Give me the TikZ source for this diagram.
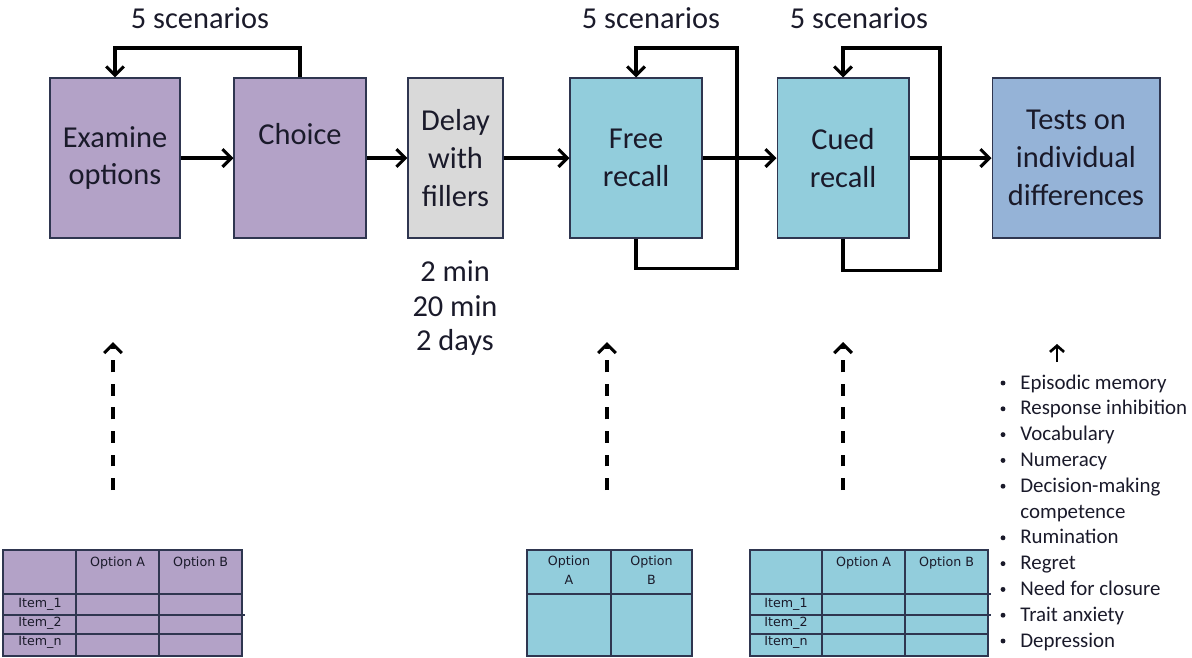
\documentclass[tikz,border=0pt]{standalone}
\usepackage{fontspec}
\setmainfont{Carlito}
\newfontfamily\gridfont{DejaVu Sans}
\usetikzlibrary{arrows.meta,positioning,calc}

\definecolor{lilac}{HTML}{B3A2C7}
\definecolor{pale}{HTML}{D9D9D9}
\definecolor{aqua}{HTML}{92CDDC}
\definecolor{steel}{HTML}{95B3D7}
\definecolor{rim}{HTML}{2F3650}
\definecolor{ink}{HTML}{1A1A2A}

\tikzset{stage/.style = {draw=rim, line width=0.6pt, minimum height=3.2cm, inner sep=0pt,
                         text=ink, align=center, font=\fontsize{17.3}{21.5}\selectfont}}
\tikzset{flow/.style = {line width=1.8pt, -{Straight Barb[length=5pt,width=10pt]}}}
\tikzset{cue/.style = {flow, dash pattern=on 6.8pt off 6.6pt}}
\tikzset{note/.style = {inner sep=0pt, text=ink, align=center, font=\fontsize{17.3}{19.8}\selectfont}}
\tikzset{tablerim/.style = {draw=rim, line width=0.7pt}}
\tikzset{cell/.style = {inner sep=0pt, text=ink, align=center, font=\gridfont\fontsize{7.2}{10.8}\selectfont}}
\tikzset{point/.style = {inner sep=0pt, text=ink, font=\fontsize{11.9}{14.6}\selectfont}}

\begin{document}
\begin{tikzpicture}[x=0.02cm, y=-0.02cm]
        \useasboundingbox (0,0) rectangle (1192,657);

        % stages of the session
        \node [stage, fill=lilac, minimum width=2.6cm]  (exam)   at (115,158)   {Examine\\options};
        \node [stage, fill=lilac, minimum width=2.64cm] (choice) at (300,158)   {Choice\\\strut};
        \node [stage, fill=pale,  minimum width=1.9cm]  (delay)  at (455.5,158) {Delay\\with\\fillers};
        \node [stage, fill=aqua,  minimum width=2.64cm] (free)   at (636,158)   {Free\\recall};
        \node [stage, fill=aqua,  minimum width=2.64cm] (cued)   at (843,158)   {Cued\\recall};
        \node [stage, fill=steel, minimum width=3.36cm] (tests)  at (1076,158)  {Tests on\\individual\\differences};

        \draw [flow] (exam.east) -- (choice.west);
        \draw [flow] (choice.east) -- (delay.west);
        \draw [flow] (delay.east) -- (free.west);
        \draw [flow] (free.east) -- (cued.west);
        \draw [flow] (cued.east) -- (tests.west);

        % repeated for every scenario
        \coordinate (top) at (0,48);
        \draw [flow] (choice.north) -- (choice.north |- top) -| (exam.north);
        \draw [flow] (free.south) |- ++(101,30) |- (free.north |- top) -- (free.north);
        \draw [flow] (cued.south) |- ++(97,32) |- (cued.north |- top) -- (cued.north);

        \node [note] (reps1) at (200,18) {5 scenarios};
        \node [note] (reps2) at (651,18) {5 scenarios};
        \node [note] (reps3) at (859,18) {5 scenarios};
        \node [note] (delays) at (455,308) {2 min\\20 min\\2 days};

        % material shown at each stage
        \coordinate (sheetA) at (113,490);  \coordinate (stageA) at (113,342);
        \coordinate (sheetB) at (607,490);  \coordinate (stageB) at (607,342);
        \coordinate (sheetC) at (843,490);  \coordinate (stageC) at (843,342);
        \draw [cue] (sheetA) -- (stageA);
        \draw [cue] (sheetB) -- (stageB);
        \draw [cue] (sheetC) -- (stageC);

        \begin{scope}[shift={(3,550)}]
            \fill [lilac] (0,0) rectangle (239,106);
            \draw [tablerim] (0,0) rectangle (239,106);
            \draw [tablerim] (73,0) -- (73,106) (156,0) -- (156,106);
            \draw [tablerim] (0,44) -- (239,44) (0,65) -- (242,65) (0,84) -- (239,84);
            \node [cell] (optA) at (114.5,13) {Option A};
            \node [cell] (optB) at (197.5,13) {Option B};
            \node [cell] (item1) at (37,54) {Item\_1};
            \node [cell] (item2) at (37,73) {Item\_2};
            \node [cell] (itemn) at (37,92) {Item\_n};
        \end{scope}

        \begin{scope}[shift={(527,550)}]
            \fill [aqua] (0,0) rectangle (165,106);
            \draw [tablerim] (0,0) rectangle (165,106);
            \draw [tablerim] (84,0) -- (84,106) (0,44) -- (165,44);
            \node [cell] (optA) at (42,20)    {Option\\A};
            \node [cell] (optB) at (124.5,20) {Option\\B};
        \end{scope}

        \begin{scope}[shift={(750,550)}]
            \fill [aqua] (0,0) rectangle (238,106);
            \draw [tablerim] (0,0) rectangle (238,106);
            \draw [tablerim] (72,0) -- (72,106) (155,0) -- (155,106);
            \draw [tablerim] (0,44) -- (241,44) (0,65) -- (241,65) (0,84) -- (238,84);
            \node [cell] (optA) at (113.5,13) {Option A};
            \node [cell] (optB) at (196.5,13) {Option B};
            \node [cell] (item1) at (36,54) {Item\_1};
            \node [cell] (item2) at (36,73) {Item\_2};
            \node [cell] (itemn) at (36,92) {Item\_n};
        \end{scope}

        % measures taken at the end
        \coordinate (listtop) at (1057,362);  \coordinate (teststop) at (1057,344);
        \draw [line width=1.5pt, -{Straight Barb[length=3.5pt,width=8pt]}] (listtop) -- (teststop);

        \foreach \dot/\txt [count=\i from 0] in {1/Episodic memory, 1/Response inhibition, 1/Vocabulary,
                1/Numeracy, 1/Decision-making, 0/competence, 1/Rumination, 1/Regret,
                1/Need for closure, 1/Trait anxiety, 1/Depression} {
            \node [point, anchor=base west] (trait\i) at (1020,{389+25.8*\i}) {\txt};
            \ifnum\dot=1 \fill [ink] (1003,{383+25.8*\i}) circle (1.4pt); \fi
        }
    \end{tikzpicture}
\end{document}
